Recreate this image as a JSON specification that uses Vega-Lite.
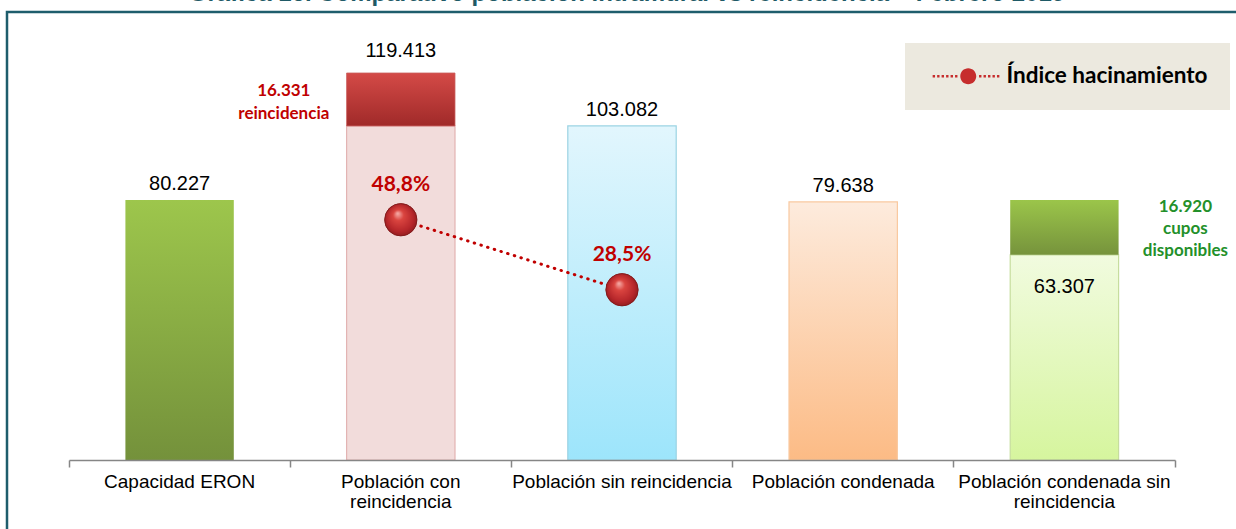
{
  "$schema": "https://vega.github.io/schema/vega-lite/v6.json",
  "width": 1240,
  "height": 530,
  "autosize": "none",
  "padding": {"left": 7, "top": 12, "right": -11, "bottom": -13},
  "background": "white",
  "title": {
    "text": "Gráfica 16.  Comparativo población intramural vs reincidencia – Febrero 2019",
    "font": "Liberation Sans",
    "fontSize": 24,
    "fontWeight": "bold",
    "color": "#1f5a66",
    "anchor": "middle",
    "baseline": "alphabetic",
    "offset": -13
  },
  "config": {
    "view": {"stroke": "#1e5d6c", "strokeWidth": 2.5},
    "font": "Liberation Sans"
  },
  "datasets": {
    "bars": [
      {"cat": "Capacidad ERON", "seg": "eron", "y0": 0, "y1": 80227},
      {"cat": "Población con reincidencia", "seg": "con_base", "y0": 0, "y1": 103082},
      {"cat": "Población con reincidencia", "seg": "con_cap", "y0": 103082, "y1": 119413},
      {"cat": "Población sin  reincidencia", "seg": "sin", "y0": 0, "y1": 103082},
      {"cat": "Población condenada", "seg": "cond", "y0": 0, "y1": 79638},
      {"cat": "Población condenada  sin reincidencia", "seg": "condsin_base", "y0": 0, "y1": 63307},
      {"cat": "Población condenada  sin reincidencia", "seg": "condsin_cap", "y0": 63307, "y1": 80227}
    ],
    "vals": [
      {"cat": "Capacidad ERON", "v": 80227, "label": "80.227"},
      {"cat": "Población con reincidencia", "v": 119413, "label": "119.413"},
      {"cat": "Población sin  reincidencia", "v": 103082, "label": "103.082"},
      {"cat": "Población condenada", "v": 79638, "label": "79.638"},
      {"cat": "Población condenada  sin reincidencia", "v": 63307, "label": "63.307"}
    ],
    "notes": [
      {"cat": "Población con reincidencia", "v": 119413, "label": "16.331\nreincidencia"},
      {"cat": "Población condenada  sin reincidencia", "v": 80227, "label": "16.920\ncupos\ndisponibles"}
    ],
    "idx": [
      {"cat": "Población con reincidencia", "pct": 48.8, "label": "48,8%"},
      {"cat": "Población sin  reincidencia", "pct": 28.5, "label": "28,5%"}
    ]
  },
  "encoding": {
    "x": {
      "field": "cat",
      "type": "nominal",
      "sort": null,
      "scale": {
        "type": "band",
        "domain": ["Capacidad ERON", "Población con reincidencia", "Población sin  reincidencia", "Población condenada", "Población condenada  sin reincidencia"],
        "range": [62, 1168],
        "paddingInner": 0,
        "paddingOuter": 0
      },
      "axis": {
        "title": null,
        "orient": "bottom",
        "offset": -82,
        "zindex": 1,
        "labelAngle": 0,
        "labelFont": "Liberation Sans",
        "labelFontSize": 19,
        "labelColor": "#000000",
        "labelLineHeight": 20,
        "labelPadding": 5,
        "labelLimit": 400,
        "labelOverlap": false,
        "labelExpr": "datum.value == 'Población con reincidencia' ? ['Población con', 'reincidencia'] : datum.value == 'Población condenada  sin reincidencia' ? ['Población condenada  sin', 'reincidencia'] : datum.value",
        "domainColor": "#868686",
        "domainWidth": 1.5,
        "tickColor": "#868686",
        "tickWidth": 1.5,
        "tickSize": 7,
        "bandPosition": 1,
        "tickExtra": true,
        "grid": false
      }
    }
  },
  "layer": [
    {
      "encoding": {
        "y": {"field": "y1", "type": "quantitative", "scale": {"domain": [0, 129600], "range": [448, 28], "nice": false, "zero": false}, "axis": null},
        "y2": {"field": "y0"}
      },
      "layer": [
        {
          "data": {"name": "bars"},
          "transform": [{"filter": "datum.seg == 'eron'"}],
          "mark": {"type": "bar", "width": {"band": 0.49},
            "fill": {"gradient": "linear", "x1": 0, "y1": 0, "x2": 0, "y2": 1, "stops": [{"offset": 0, "color": "#9dc64c"}, {"offset": 1, "color": "#74913b"}]}}
        },
        {
          "data": {"name": "bars"},
          "transform": [{"filter": "datum.seg == 'con_base'"}],
          "mark": {"type": "bar", "width": {"band": 0.49}, "fill": "#f2dcdb", "stroke": "#e3b4b3", "strokeWidth": 1.2}
        },
        {
          "data": {"name": "bars"},
          "transform": [{"filter": "datum.seg == 'con_cap'"}],
          "mark": {"type": "bar", "width": {"band": 0.49}, "stroke": "#c9605e", "strokeWidth": 0.8,
            "fill": {"gradient": "linear", "x1": 0, "y1": 0, "x2": 0, "y2": 1, "stops": [{"offset": 0, "color": "#d44a47"}, {"offset": 1, "color": "#a02a29"}]}}
        },
        {
          "data": {"name": "bars"},
          "transform": [{"filter": "datum.seg == 'sin'"}],
          "mark": {"type": "bar", "width": {"band": 0.49}, "stroke": "#9bd3e3", "strokeWidth": 1.2,
            "fill": {"gradient": "linear", "x1": 0, "y1": 0, "x2": 0, "y2": 1, "stops": [{"offset": 0, "color": "#e2f6fd"}, {"offset": 1, "color": "#9de5fb"}]}}
        },
        {
          "data": {"name": "bars"},
          "transform": [{"filter": "datum.seg == 'cond'"}],
          "mark": {"type": "bar", "width": {"band": 0.49}, "stroke": "#f9c9a0", "strokeWidth": 1.2,
            "fill": {"gradient": "linear", "x1": 0, "y1": 0, "x2": 0, "y2": 1, "stops": [{"offset": 0, "color": "#fdebdd"}, {"offset": 1, "color": "#fcbb85"}]}}
        },
        {
          "data": {"name": "bars"},
          "transform": [{"filter": "datum.seg == 'condsin_base'"}],
          "mark": {"type": "bar", "width": {"band": 0.49}, "stroke": "#c6dd9e", "strokeWidth": 1.2,
            "fill": {"gradient": "linear", "x1": 0, "y1": 0, "x2": 0, "y2": 1, "stops": [{"offset": 0, "color": "#f1fbdf"}, {"offset": 1, "color": "#d6f59e"}]}}
        },
        {
          "data": {"name": "bars"},
          "transform": [{"filter": "datum.seg == 'condsin_cap'"}],
          "mark": {"type": "bar", "width": {"band": 0.49},
            "fill": {"gradient": "linear", "x1": 0, "y1": 0, "x2": 0, "y2": 1, "stops": [{"offset": 0, "color": "#9bc54a"}, {"offset": 1, "color": "#76933c"}]}}
        },
        {
          "data": {"name": "vals"},
          "transform": [{"filter": "datum.v == 80227 || datum.v == 103082 || datum.v == 79638"}],
          "mark": {"type": "text", "font": "Liberation Sans", "fontSize": 20, "fill": "#000000", "baseline": "alphabetic", "dy": -10},
          "encoding": {"y": {"field": "v", "type": "quantitative"}, "y2": null, "text": {"field": "label"}}
        },
        {
          "data": {"name": "vals"},
          "transform": [{"filter": "datum.v == 119413"}],
          "mark": {"type": "text", "font": "Liberation Sans", "fontSize": 20, "fill": "#000000", "baseline": "alphabetic", "dy": -16},
          "encoding": {"y": {"field": "v", "type": "quantitative"}, "y2": null, "text": {"field": "label"}}
        },
        {
          "data": {"name": "vals"},
          "transform": [{"filter": "datum.v == 63307"}],
          "mark": {"type": "text", "font": "Liberation Sans", "fontSize": 20, "fill": "#000000", "baseline": "alphabetic", "dy": 38},
          "encoding": {"y": {"field": "v", "type": "quantitative"}, "y2": null, "text": {"field": "label"}}
        },
        {
          "data": {"name": "notes"},
          "transform": [{"filter": "datum.v == 119413"}],
          "mark": {"type": "text", "font": "Lato", "fontWeight": "bold", "fontSize": 17, "fill": "#c00000", "align": "center", "baseline": "middle", "lineBreak": "\n", "lineHeight": 23, "dx": -117, "dy": 18},
          "encoding": {"y": {"field": "v", "type": "quantitative"}, "y2": null, "text": {"field": "label"}}
        },
        {
          "data": {"name": "notes"},
          "transform": [{"filter": "datum.v == 80227"}],
          "mark": {"type": "text", "font": "Lato", "fontWeight": "bold", "fontSize": 17, "fill": "#23902a", "align": "center", "baseline": "middle", "lineBreak": "\n", "lineHeight": 22, "dx": 121, "dy": 7},
          "encoding": {"y": {"field": "v", "type": "quantitative"}, "y2": null, "text": {"field": "label"}}
        }
      ]
    },
    {
      "data": {"name": "idx"},
      "encoding": {
        "y": {"field": "pct", "type": "quantitative", "scale": {"domain": [-20.88, 100.93], "range": [448, 28], "nice": false, "zero": false}, "axis": null}
      },
      "layer": [
        {
          "mark": {"type": "line", "stroke": "#c00000", "strokeWidth": 3, "strokeDash": [0.5, 6.5], "strokeCap": "round"}
        },
        {
          "mark": {"type": "point", "filled": true, "size": 1050, "opacity": 1},
          "encoding": {
            "fill": {
              "datum": "Índice hacinamiento",
              "type": "nominal",
              "scale": {"range": ["#c62d2d"]},
              "legend": {
                "title": null,
                "orient": "none",
                "legendX": 898,
                "legendY": 31,
                "fillColor": "#ece9df",
                "padding": 22,
                "symbolType": "M-1,0a1,1 0 1,0 2,0a1,1 0 1,0 -2,0z M-4.45,-0.15h0.3v0.3h-0.3z M-3.89,-0.15h0.3v0.3h-0.3z M-3.33,-0.15h0.3v0.3h-0.3z M-2.77,-0.15h0.3v0.3h-0.3z M-2.21,-0.15h0.3v0.3h-0.3z M-1.65,-0.15h0.3v0.3h-0.3z M1.35,-0.15h0.3v0.3h-0.3z M1.91,-0.15h0.3v0.3h-0.3z M2.47,-0.15h0.3v0.3h-0.3z M3.03,-0.15h0.3v0.3h-0.3z M3.59,-0.15h0.3v0.3h-0.3z",
                "symbolSize": 256,
                "symbolStrokeWidth": 0,
                "symbolOffset": 30,
                "labelOffset": 27,
                "labelFont": "Lato",
                "labelFontWeight": "bold",
                "labelFontSize": 22.5,
                "labelColor": "#000000",
                "labelLimit": 400
              }
            }
          }
        },
        {
          "mark": {"type": "point", "filled": true, "size": 1050, "opacity": 1, "stroke": "#7a1a1a", "strokeWidth": 0.8,
            "fill": {"gradient": "radial", "x1": 0.4, "y1": 0.3, "r1": 0, "x2": 0.5, "y2": 0.5, "r2": 0.55,
              "stops": [{"offset": 0, "color": "#f7b2ae"}, {"offset": 0.3, "color": "#da443f"}, {"offset": 0.75, "color": "#b5262a"}, {"offset": 1, "color": "#8a1a1d"}]}}
        },
        {
          "mark": {"type": "text", "font": "Lato", "fontWeight": "bold", "fontSize": 21, "fill": "#c00000", "baseline": "middle", "dy": -35},
          "encoding": {"text": {"field": "label"}}
        }
      ]
    }
  ],
  "resolve": {"scale": {"y": "independent"}}
}
